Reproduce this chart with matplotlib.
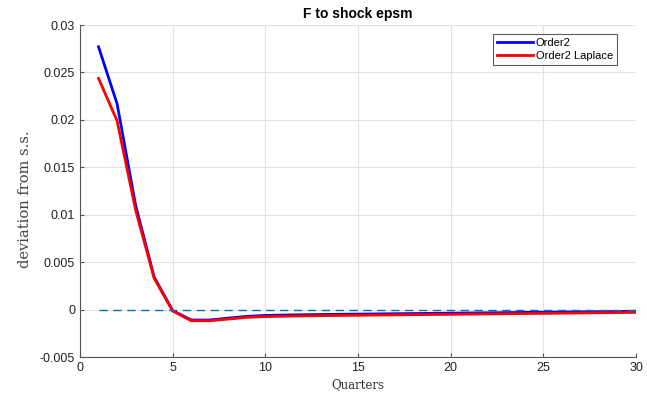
import matplotlib
matplotlib.use("Agg")
import matplotlib.pyplot as plt

quarters = list(range(1, 31))
order2 = [0.0277, 0.0217, 0.0110, 0.00344, -0.0001, -0.00110, -0.00110, -0.00090,
          -0.00072, -0.00062, -0.00058, -0.00055, -0.00052, -0.00050, -0.00048,
          -0.00046, -0.00044, -0.00042, -0.00040, -0.00038, -0.00036, -0.00034,
          -0.00032, -0.00030, -0.00028, -0.00026, -0.00024, -0.00022, -0.00020, -0.00018]
order2_laplace = [0.02437, 0.0199, 0.0105, 0.00330, -0.00015, -0.00118, -0.00118, -0.00100,
                  -0.00082, -0.00074, -0.00070, -0.00067, -0.00064, -0.00062, -0.00060,
                  -0.00058, -0.00056, -0.00054, -0.00052, -0.00050, -0.00048, -0.00046,
                  -0.00044, -0.00042, -0.00040, -0.00038, -0.00036, -0.00034, -0.00032, -0.00030]
steady_state = [0.0] * len(quarters)

plt.rcParams['font.family'] = ['Liberation Sans', 'DejaVu Sans']

fig = plt.figure(figsize=(6.47, 3.97), dpi=100)
ax = fig.add_axes([80/647, 1-357/397, 556/647, 332/397])

ax.plot(quarters, order2, color='#0000ff', lw=2, label='Order2')
ax.plot(quarters, order2_laplace, color='#ff0000', lw=2, label='Order2 Laplace')
ax.plot(quarters, steady_state, color='#0072bd', lw=1.0, ls=(0, (6, 4)))

ax.set_xlim(0, 30)
ax.set_ylim(-0.005, 0.03)
ax.set_xticks(range(0, 31, 5))
ax.set_yticks([-0.005, 0, 0.005, 0.01, 0.015, 0.02, 0.025, 0.03])
ax.set_yticklabels(['-0.005', '0', '0.005', '0.01', '0.015', '0.02', '0.025', '0.03'])
ax.grid(True, color='#e3e3e3', lw=0.8)
ax.set_axisbelow(True)
for s in ['top', 'right']:
    ax.spines[s].set_visible(False)
for s in ['left', 'bottom']:
    ax.spines[s].set_color('#555555')
    ax.spines[s].set_linewidth(0.8)
ax.tick_params(direction='in', length=3, labelsize=9, colors='#555555', labelcolor='#222222')

ax.set_title('F to shock epsm', fontsize=10, fontweight='bold', pad=5)
ax.set_xlabel('Quarters', family='DejaVu Serif', fontsize=8.5, labelpad=3, color='#333333')
ax.set_ylabel('deviation from s.s.', family='DejaVu Serif', fontsize=10.5, labelpad=6, color='#444444')
ax.yaxis.label.set_y(0.476)

leg = ax.legend(loc='upper right', fontsize=8, fancybox=False, edgecolor='#333333',
                handlelength=3.2, borderpad=0.35, labelspacing=0.25, handletextpad=0.3,
                borderaxespad=0, bbox_to_anchor=(0.966, 0.973))
leg.get_frame().set_linewidth(0.8)

fig.savefig('out.png', dpi=100)
